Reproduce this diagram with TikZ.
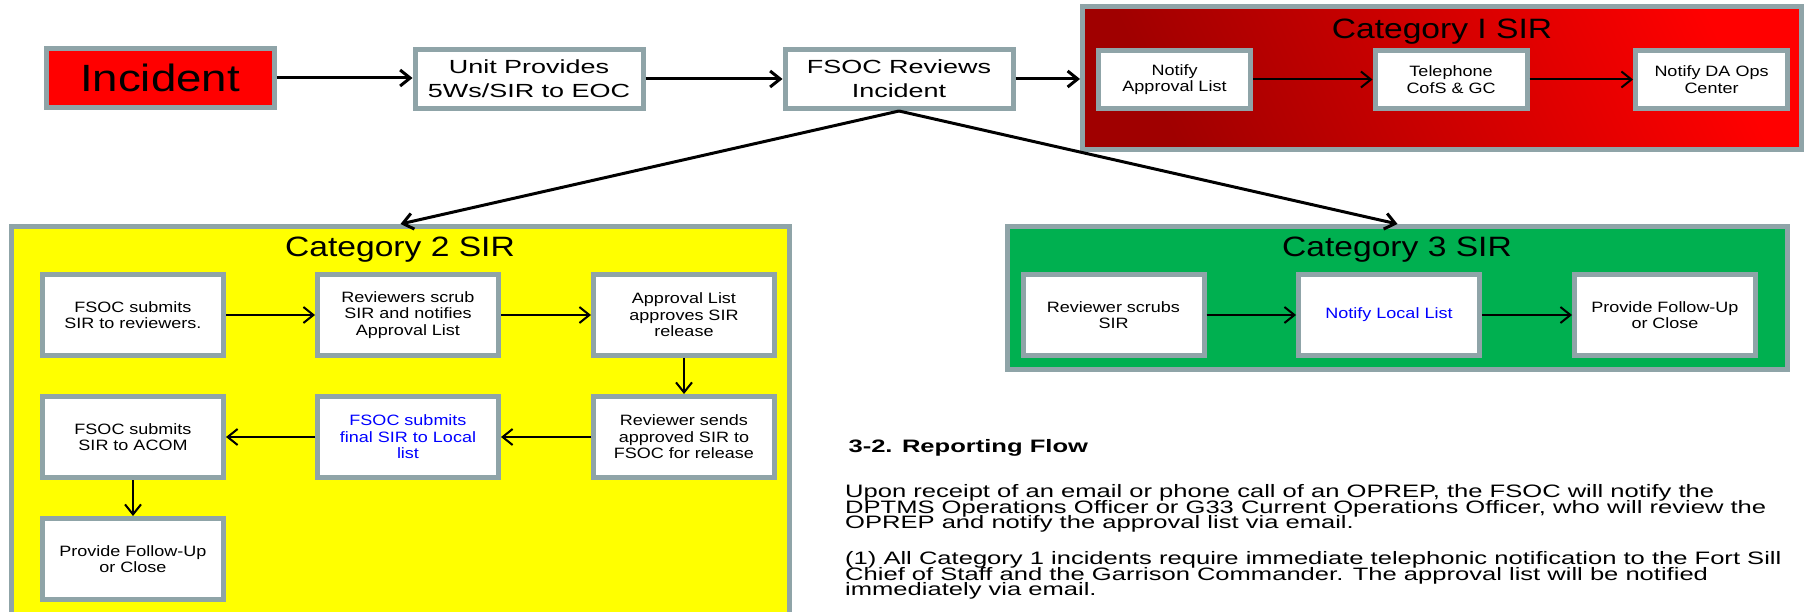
\documentclass[tikz,border=0pt]{standalone}
\usepackage{fontspec}
\setmainfont{Liberation Sans}[FakeStretch=1.2]
\newfontfamily\widefont{Liberation Sans}[FakeStretch=1.42]
\usetikzlibrary{arrows.meta}
\definecolor{rimgray}{HTML}{8FA4A8}
\definecolor{catyellow}{HTML}{FFFF00}
\definecolor{catgreen}{HTML}{00B050}
\definecolor{catred}{HTML}{FF0000}
\definecolor{catdark}{HTML}{A00000}
\definecolor{localblue}{HTML}{0000FF}
\lineskiplimit=-20pt
\begin{document}
\begin{tikzpicture}[x=1pt, y=-1pt, >={Straight Barb[length=10pt,width=16pt]},
    rim/.style={draw=rimgray, line width=5pt},
    sbox/.style={rim, fill=white, minimum width=181pt, minimum height=81pt, inner sep=1pt, align=center, font=\fontsize{15}{16.5}\selectfont},
    ibox/.style={sbox, minimum width=152pt, minimum height=58pt},
    topbox/.style={sbox, minimum width=228pt, minimum height=59pt, font=\widefont\fontsize{19}{24}\selectfont},
    cat/.style={rim, inner sep=0pt},
    cattitle/.style={font=\fontsize{28}{30}\selectfont},
    flow/.style={->, line width=2pt},
    bigflow/.style={flow, line width=3pt},
    bodytext/.style={anchor=north west, align=left, inner sep=0pt, font=\widefont\fontsize{18}{15.8}\selectfont}]
    \useasboundingbox (0,0) rectangle (1808,612);
    \node[topbox, fill=catred, font=\fontsize{38}{40}\selectfont] (incident) at (160,78) {Incident};
    \node[topbox] (unit) at (529,79) {Unit Provides\\5Ws/SIR to EOC};
    \node[topbox] (fsoc) at (899,79) {FSOC Reviews\\Incident};
    \node[cat, minimum width=719pt, minimum height=143pt, left color=catdark, right color=catred, shading angle=115] (cati) at (1442,78) {};
    \node[cattitle] (catititle) at (1442,32) {Category I SIR};
    \node[ibox] (notify) at (1174.5,79.5) {Notify\\Approval List};
    \node[ibox] (phone) at (1451,79.5) {Telephone\\CofS \& GC};
    \node[ibox] (daops) at (1711.5,79.5) {Notify DA Ops\\Center};
    \node[cat, fill=catyellow, minimum width=778pt, minimum height=392pt] (catii) at (400.5,422.5) {};
    \node[cattitle] (catiititle) at (400,250) {Category 2 SIR};
    \node[sbox] (submit) at (133,315) {FSOC submits\\SIR to reviewers.};
    \node[sbox] (scrub) at (408,315) {Reviewers scrub\\SIR and notifies\\Approval List};
    \node[sbox] (approve) at (684,315) {Approval List\\approves SIR\\release};
    \node[sbox] (sends) at (684,437) {Reviewer sends\\approved SIR to\\FSOC for release};
    \node[sbox, text=localblue] (final) at (408,437) {FSOC submits\\final SIR to Local\\list};
    \node[sbox] (acom) at (133,437) {FSOC submits\\SIR to ACOM};
    \node[sbox] (closeii) at (133,559) {Provide Follow-Up\\or Close};
    \node[cat, fill=catgreen, minimum width=780pt, minimum height=143pt] (catiii) at (1397.5,298) {};
    \node[cattitle] (catiiititle) at (1397,250) {Category 3 SIR};
    \node[sbox] (rscrub) at (1113.5,315) {Reviewer scrubs\\SIR};
    \node[sbox, text=localblue] (local) at (1389,315) {Notify Local List};
    \node[sbox] (closeiii) at (1665,315) {Provide Follow-Up\\or Close};
    \draw[bigflow] (incident.east) -- (incident.east -| unit.west);
    \draw[bigflow] (unit) -- (fsoc);
    \draw[bigflow] (fsoc.east) -- (fsoc.east -| cati.west);
    \draw[bigflow] (fsoc.south) -- (catii.north);
    \draw[bigflow] (fsoc.south) -- (catiii.north);
    \draw[flow] (notify) -- (phone);
    \draw[flow] (phone) -- (daops);
    \draw[flow] (submit) -- (scrub);
    \draw[flow] (scrub) -- (approve);
    \draw[flow] (approve) -- (sends);
    \draw[flow] (sends) -- (final);
    \draw[flow] (final) -- (acom);
    \draw[flow] (acom) -- (closeii);
    \draw[flow] (rscrub) -- (local);
    \draw[flow] (local) -- (closeiii);
    \node[anchor=base west, font=\widefont\fontsize{18}{18}\selectfont\bfseries] (flowhead) at (845,452) {3-2. Reporting Flow};
    \node[bodytext] (flowtext) at (845,484) {Upon receipt of an email or phone call of an OPREP, the FSOC will notify the\\DPTMS Operations Officer or G33 Current Operations Officer, who will review the\\OPREP and notify the approval list via email.};
    \node[bodytext] (cattext) at (845,551) {(1) All Category 1 incidents require immediate telephonic notification to the Fort Sill\\Chief of Staff and the Garrison Commander.  The approval list will be notified\\immediately via email.};
\end{tikzpicture}
\end{document}
